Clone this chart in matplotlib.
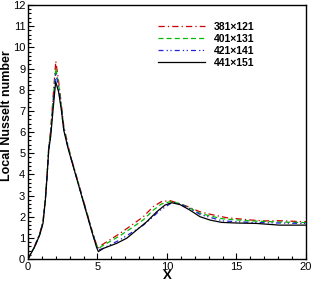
import matplotlib
matplotlib.use("Agg")
import matplotlib.pyplot as plt
from matplotlib.ticker import MultipleLocator

plt.rcParams['font.family'] = ['Liberation Sans', 'DejaVu Sans']

labels = ["381\u00d7121", "401\u00d7131", "421\u00d7141", "441\u00d7151"]

x_black = [0, 0.48, 0.84, 1.08, 1.25, 1.37, 1.49, 1.63, 1.80, 1.99, 2.2, 2.40, 2.57, 2.88, 3.12, 3.6, 4.08, 4.56, 4.92, 5.06,
           5.42, 6.38, 7.1, 7.82, 8.54, 9.26, 9.86, 10.34, 10.94, 11.65, 12.37, 13.1, 13.93, 15.0, 16.45, 18.1, 20]
y_black = [0, 0.58, 1.13, 1.69, 2.79, 3.89, 5.15, 5.78, 7.04, 8.38, 7.9, 7.04, 6.09, 5.23, 4.68, 3.58, 2.47, 1.37, 0.58, 0.35,
           0.5, 0.74, 0.98, 1.37, 1.76, 2.23, 2.55, 2.66, 2.57, 2.31, 2.0, 1.84, 1.73, 1.70, 1.68, 1.6, 1.6]

x_red = [0, 0.48, 0.84, 1.08, 1.25, 1.37, 1.49, 1.63, 1.80, 2.0, 2.2, 2.40, 2.57, 2.88, 3.12, 3.6, 4.08, 4.56, 4.92, 5.05,
         5.3, 6.62, 7.46, 8.3, 9.0, 9.6, 10.2, 10.8, 11.4, 12.37, 13.2, 14.3, 16.1, 17.05, 18.0, 20]
y_red = [0, 0.62, 1.2, 1.8, 2.9, 4.0, 5.3, 6.1, 7.6, 9.35, 8.4, 7.3, 6.3, 5.35, 4.75, 3.65, 2.55, 1.45, 0.7, 0.5,
         0.66, 1.21, 1.6, 2.0, 2.47, 2.71, 2.76, 2.64, 2.5, 2.23, 2.1, 1.95, 1.84, 1.8, 1.81, 1.76]

x_green = [0, 0.48, 0.84, 1.08, 1.25, 1.37, 1.49, 1.63, 1.80, 2.0, 2.2, 2.40, 2.57, 2.88, 3.12, 3.6, 4.08, 4.56, 4.92, 5.05,
           5.3, 6.62, 7.46, 8.3, 9.0, 9.6, 10.3, 10.9, 11.5, 12.4, 13.2, 14.0, 16.0, 18.0, 20]
y_green = [0, 0.6, 1.17, 1.76, 2.86, 3.96, 5.25, 6.0, 7.45, 9.0, 8.25, 7.2, 6.2, 5.3, 4.72, 3.62, 2.52, 1.42, 0.66, 0.48,
           0.6, 1.1, 1.47, 1.85, 2.3, 2.6, 2.72, 2.62, 2.45, 2.15, 2.02, 1.9, 1.8, 1.75, 1.72]

x_blue = [0, 0.48, 0.84, 1.08, 1.25, 1.37, 1.49, 1.63, 1.80, 2.0, 2.2, 2.40, 2.57, 2.88, 3.12, 3.6, 4.08, 4.56, 4.92, 5.05,
          5.4, 6.6, 7.46, 8.3, 9.0, 9.5, 10.4, 11.0, 11.6, 12.4, 13.2, 14.0, 16.0, 18.0, 20]
y_blue = [0, 0.58, 1.15, 1.72, 2.82, 3.92, 5.2, 5.9, 7.3, 8.8, 8.1, 7.1, 6.15, 5.27, 4.7, 3.6, 2.5, 1.4, 0.62, 0.42,
          0.5, 0.9, 1.25, 1.6, 2.0, 2.3, 2.68, 2.58, 2.4, 2.1, 1.95, 1.8, 1.73, 1.7, 1.68]

fig = plt.figure(figsize=(3.13, 2.83), dpi=100)
ax = fig.add_axes([0.0895, 0.0848, 0.888, 0.8975])

ax.plot(x_red, y_red, color='#cc0000', lw=0.9, dashes=[5, 2.5, 1, 2.5], label=labels[0])
ax.plot(x_green, y_green, color='#00bb00', lw=0.9, dashes=[4, 2.5], label=labels[1])
ax.plot(x_blue, y_blue, color='#2222dd', lw=0.9, dashes=[4, 2.5, 1, 2, 1, 2.5], label=labels[2])
ax.plot(x_black, y_black, color='black', lw=0.9, label=labels[3])

ax.set_xlim(0, 20)
ax.set_ylim(0, 12)
ax.xaxis.set_major_locator(MultipleLocator(5))
ax.xaxis.set_minor_locator(MultipleLocator(1))
ax.yaxis.set_major_locator(MultipleLocator(1))
ax.yaxis.set_minor_locator(MultipleLocator(0.2))
ax.tick_params(which='both', direction='in', top=False, right=False, labelsize=8, pad=2)
ax.tick_params(which='major', length=4, width=0.8)
ax.tick_params(which='minor', length=2, width=0.8)
for s in ax.spines.values():
    s.set_linewidth(1.0)

ax.set_xlabel('X', fontsize=9.5, fontweight='bold', labelpad=-1)
ax.set_ylabel('Local Nusselt number', fontsize=9, fontweight='bold')
ax.yaxis.set_label_coords(-0.054, 0.563)

leg = ax.legend(loc='upper left', bbox_to_anchor=(0.45, 0.955), frameon=False, fontsize=7.5,
                handlelength=4.5, handletextpad=0.8, labelspacing=0.2, borderpad=0)
for t in leg.get_texts():
    t.set_fontweight('bold')

fig.savefig('out.png', dpi=100)
